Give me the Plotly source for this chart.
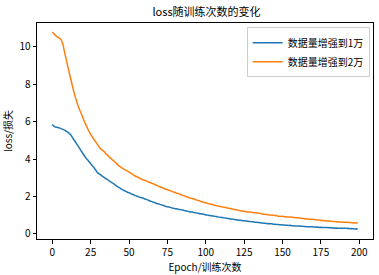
import plotly.graph_objects as go

epochs = list(range(200))

loss_1w = [
    5.85, 5.76, 5.72, 5.70, 5.68, 5.66, 5.62, 5.59, 5.55, 5.50,
    5.45, 5.38, 5.30, 5.18, 5.05, 4.93, 4.80, 4.68, 4.55, 4.42,
    4.30, 4.17, 4.05, 3.97, 3.86, 3.77, 3.66, 3.56, 3.45, 3.33,
    3.24, 3.19, 3.13, 3.06, 3.01, 2.95, 2.91, 2.84, 2.79, 2.73,
    2.69, 2.62, 2.56, 2.50, 2.46, 2.40, 2.36, 2.31, 2.28, 2.23,
    2.20, 2.17, 2.12, 2.10, 2.05, 2.03, 1.99, 1.97, 1.93, 1.92,
    1.88, 1.86, 1.82, 1.79, 1.75, 1.73, 1.69, 1.67, 1.63, 1.62,
    1.58, 1.56, 1.53, 1.51, 1.47, 1.46, 1.44, 1.42, 1.39, 1.38,
    1.35, 1.35, 1.32, 1.31, 1.29, 1.28, 1.25, 1.24, 1.21, 1.20,
    1.17, 1.17, 1.15, 1.14, 1.12, 1.11, 1.08, 1.08, 1.05, 1.05,
    1.02, 1.02, 0.99, 0.99, 0.96, 0.96, 0.94, 0.93, 0.91, 0.90,
    0.88, 0.88, 0.86, 0.85, 0.83, 0.83, 0.80, 0.80, 0.78, 0.77,
    0.75, 0.75, 0.73, 0.73, 0.71, 0.71, 0.69, 0.69, 0.67, 0.67,
    0.65, 0.65, 0.63, 0.63, 0.61, 0.61, 0.59, 0.59, 0.57, 0.57,
    0.55, 0.56, 0.54, 0.54, 0.52, 0.52, 0.50, 0.51, 0.49, 0.49,
    0.48, 0.48, 0.46, 0.47, 0.45, 0.46, 0.44, 0.44, 0.43, 0.43,
    0.42, 0.42, 0.41, 0.41, 0.40, 0.40, 0.39, 0.39, 0.38, 0.38,
    0.37, 0.37, 0.36, 0.37, 0.35, 0.36, 0.34, 0.35, 0.34, 0.34,
    0.33, 0.34, 0.32, 0.33, 0.31, 0.32, 0.31, 0.31, 0.30, 0.31,
    0.30, 0.30, 0.29, 0.30, 0.28, 0.29, 0.28, 0.27, 0.28, 0.27,
]

loss_2w = [
    10.80, 10.72, 10.62, 10.55, 10.50, 10.45, 10.35, 10.12, 9.72, 9.35,
    9.00, 8.64, 8.30, 7.95, 7.62, 7.33, 7.05, 6.82, 6.60, 6.41,
    6.20, 6.00, 5.82, 5.64, 5.47, 5.33, 5.21, 5.06, 4.96, 4.83,
    4.72, 4.60, 4.52, 4.45, 4.39, 4.28, 4.22, 4.12, 4.06, 3.97,
    3.91, 3.83, 3.76, 3.67, 3.62, 3.55, 3.51, 3.44, 3.41, 3.36,
    3.32, 3.25, 3.21, 3.15, 3.10, 3.06, 3.03, 2.97, 2.94, 2.90,
    2.87, 2.84, 2.81, 2.76, 2.75, 2.70, 2.69, 2.63, 2.60, 2.56,
    2.52, 2.50, 2.47, 2.42, 2.40, 2.36, 2.34, 2.30, 2.29, 2.24,
    2.22, 2.18, 2.17, 2.13, 2.10, 2.06, 2.05, 2.00, 1.98, 1.94,
    1.92, 1.89, 1.88, 1.84, 1.82, 1.79, 1.78, 1.73, 1.71, 1.68,
    1.67, 1.64, 1.62, 1.59, 1.59, 1.55, 1.54, 1.51, 1.50, 1.47,
    1.47, 1.44, 1.43, 1.41, 1.39, 1.37, 1.36, 1.33, 1.32, 1.30,
    1.29, 1.27, 1.26, 1.23, 1.23, 1.20, 1.21, 1.18, 1.18, 1.16,
    1.16, 1.14, 1.14, 1.13, 1.12, 1.10, 1.09, 1.06, 1.06, 1.04,
    1.04, 1.02, 1.02, 1.00, 1.00, 0.98, 0.98, 0.95, 0.95, 0.94,
    0.94, 0.92, 0.92, 0.91, 0.91, 0.90, 0.90, 0.88, 0.88, 0.86,
    0.86, 0.85, 0.84, 0.82, 0.82, 0.80, 0.81, 0.79, 0.79, 0.78,
    0.78, 0.76, 0.76, 0.74, 0.74, 0.72, 0.73, 0.71, 0.71, 0.69,
    0.69, 0.68, 0.68, 0.66, 0.67, 0.65, 0.65, 0.64, 0.64, 0.63,
    0.63, 0.62, 0.62, 0.61, 0.61, 0.60, 0.60, 0.59, 0.60, 0.58,
]

series_names = ["数据量增强到1万", "数据量增强到2万"]
x_ticks = [0, 25, 50, 75, 100, 125, 150, 175, 200]
y_ticks = [0, 2, 4, 6, 8, 10]

FONT = "Noto Sans CJK SC, SimHei, sans-serif"

fig = go.Figure()
fig.add_trace(go.Scatter(x=epochs, y=loss_1w, mode="lines", name=series_names[0],
                         line=dict(color="#1f77b4", width=1.5, simplify=False)))
fig.add_trace(go.Scatter(x=epochs, y=loss_2w, mode="lines", name=series_names[1],
                         line=dict(color="#ff7f0e", width=1.5, simplify=False)))

axis_common = dict(
    showline=True, linecolor="black", linewidth=1, mirror=True,
    ticks="outside", ticklen=3.5, tickwidth=1, tickcolor="black",
    showgrid=False, zeroline=False,
    tickfont=dict(family=FONT, size=10, color="black"),
)

fig.update_layout(
    width=379, height=275,
    margin=dict(l=37, r=6, t=23, b=36),
    paper_bgcolor="white", plot_bgcolor="white",
    title=dict(text="loss随训练次数的变化", x=0.545, xanchor="center", y=0.955, yanchor="middle",
               font=dict(family=FONT, size=11, color="black")),
    xaxis=dict(range=[-9.95, 208.95], tickvals=x_ticks,
               title=dict(text="Epoch/训练次数", font=dict(family=FONT, size=10, color="black"), standoff=1),
               **axis_common),
    yaxis=dict(range=[-0.27, 11.28], tickvals=y_ticks,
               title=dict(text="loss/损失", font=dict(family=FONT, size=10, color="black"), standoff=6),
               **axis_common),
    legend=dict(x=0.99, y=0.98, xanchor="right", yanchor="top",
                bgcolor="rgba(255,255,255,0.8)", bordercolor="#cccccc", borderwidth=1,
                font=dict(family=FONT, size=10, color="black"),
                tracegroupgap=0, itemwidth=30),
    showlegend=True,
)

fig.write_html("out.html")
